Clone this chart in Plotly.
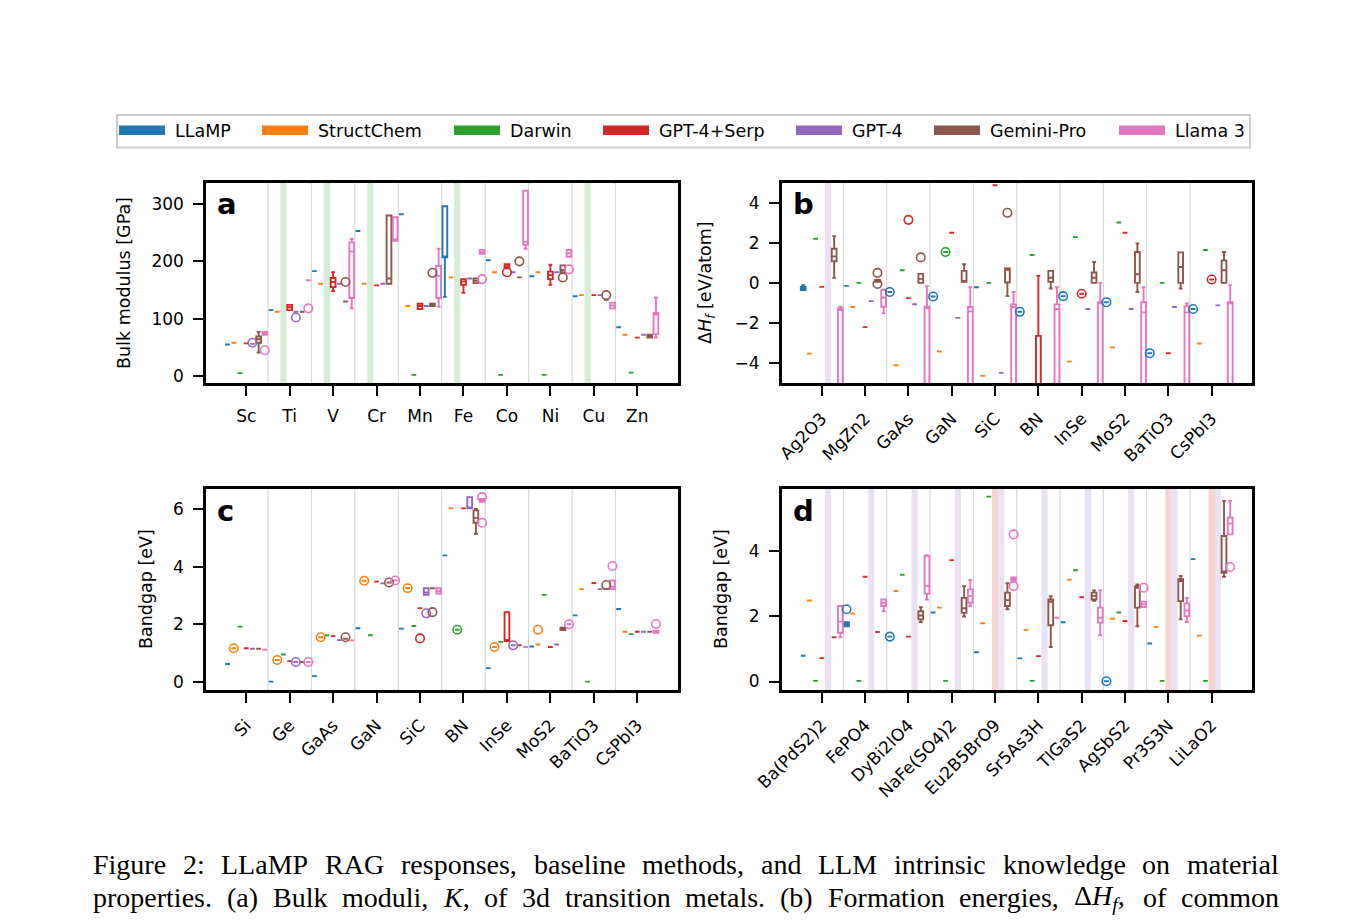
import plotly.graph_objects as go

W, H = 1369, 920
METHODS = ["LLaMP", "StructChem", "Darwin", "GPT-4+Serp", "GPT-4", "Gemini-Pro", "Llama 3"]
COLORS = ["#1f77b4", "#ff7f0e", "#2ca02c", "#d62728", "#9467bd", "#8c564b", "#e377c2"]

# ---------------- panel a: bulk modulus [GPa] ----------------
A_CATS = ["Sc", "Ti", "V", "Cr", "Mn", "Fe", "Co", "Ni", "Cu", "Zn"]
# entry: single value, [lowerfence, q1, median, q3, upperfence], or None
A_LLAMP = [55, 115, 183, 253, 282, [138, 207, 208, 296, 296], 202, 174, 139, 85]
A_STRUCT = [58, 112, 161, 161, 122, 172, 181, 181, 141, 72]
A_DARWIN = [5, None, None, None, 2, None, 2, 2, None, 6]
A_SERP = [57, [115, 115, 120, 124, 124], [148, 155, 164, 171, 181], 158, [117, 117, 122, 126, 126],
          [145, 159, 165, 169, 169], [188, 188, 191, 195, 195], [159, 169, 176, 182, 194], 141, 67]
A_GPT4 = [56, 112, 161, 161, 122, 170, 181, 181, 141, 72]
A_GEMINI = [[41, 58, 64, 69, 77], 112, 130, [161, 161, 170, 280, 280], [122, 122, 123, 126, 126],
            [162, 162, 166, 170, 170], 172, [181, 181, 185, 193, 193], 133, [67, 67, 69, 72, 72]]
A_LLAMA = [[72, 72, 74, 77, 77], 167, [118, 136, 217, 233, 239], [236, 236, 238, 277, 277],
           [121, 136, 175, 192, 222], [213, 213, 216, 220, 220], [222, 229, 234, 323, 323],
           [208, 208, 214, 220, 220], [118, 118, 123, 128, 128], [67, 73, 107, 110, 137]]
A_OUTLIERS = [(0, 4, 58), (0, 6, 45), (1, 4, 102), (1, 6, 118), (2, 5, 164), (4, 5, 180),
              (5, 6, 169), (6, 3, 181), (6, 5, 200), (7, 5, 172), (7, 6, 186), (8, 5, 141)]
A_MISSING = [(1, 2), (2, 2), (3, 2), (5, 2), (8, 2)]

# ---------------- panel b: formation energy [eV/atom] ----------------
B_CATS = ["Ag2O3", "MgZn2", "GaAs", "GaN", "SiC", "BN", "InSe", "MoS2", "BaTiO3", "CsPbI3"]
B_LLAMP = [[-0.36, -0.35, -0.28, -0.2, -0.11], -0.15, -0.45, -0.68, -0.22, -1.44, -0.66, -0.96, -3.5, -1.3]
B_STRUCT = [-3.52, -1.2, -4.1, -3.42, -4.63, None, -3.92, -3.22, None, -3.02]
B_DARWIN = [2.2, 0.0, 0.63, 1.54, 0.0, 1.39, 2.28, 3.01, 0.0, 1.64]
B_SERP = [-0.2, -2.2, -0.76, 2.5, 4.86, [-20, -12, -8, -2.64, 0.35], -0.54, 2.5, -3.5, 0.17]
B_GPT4 = [None, -0.91, -1.06, -1.74, -4.48, None, -1.3, -1.3, -1.2, -1.12]
B_GEMINI = [[0.25, 1.08, 1.32, 1.7, 2.33], [0.05, 0.05, 0.12, 0.15, 0.15], [0, 0, 0.2, 0.45, 0.45],
            [0.05, 0.05, 0.1, 0.6, 0.93], [-0.66, 0.02, 0.65, 0.72, 0.72], [-0.28, 0.05, 0.26, 0.6, 0.6],
            [0, 0, 0.26, 0.52, 1.04], [-0.45, 0, 0.43, 1.54, 1.97], [-0.28, 0, 0.79, 1.52, 1.52],
            [0, 0, 0.63, 1.12, 1.54]]
B_LLAMA = [[-20, -12, -1.35, -1.27, -1.19], [-1.52, -1.19, -0.73, -0.36, -0.33], [-20, -12, -1.25, -1.19, -0.16],
           [-20, -12, -1.42, -1.2, -0.22], [-20, -12, -1.2, -1.07, -0.45], [-20, -12, -1.3, -1.07, -0.22],
           [-20, -12, -1.0, -0.96, 0.0], [-20, -12, -1.47, -0.96, -0.22], [-20, -12, -1.47, -1.16, -1.02],
           [-20, -12, -1.0, -0.96, -0.11]]
B_OUTLIERS = [(2, 0, -0.45), (3, 0, -0.68), (5, 0, -1.44), (6, 0, -0.66), (7, 0, -0.96), (8, 0, -3.5),
              (9, 0, -1.3), (3, 2, 1.54), (2, 3, 3.14), (6, 3, -0.54), (9, 3, 0.17),
              (1, 5, 0.5), (1, 5, -0.05), (2, 5, 1.27), (4, 5, 3.49)]
B_MISSING = [(0, 4)]

# ---------------- panel c: bandgap [eV] ----------------
C_CATS = ["Si", "Ge", "GaAs", "GaN", "SiC", "BN", "InSe", "MoS2", "BaTiO3", "CsPbI3"]
C_LLAMP = [0.62, 0.01, 0.2, 1.86, 1.85, 4.39, 0.48, 1.23, 2.31, 2.53]
C_STRUCT = [1.17, 0.76, 1.55, 3.51, 3.25, 6.02, 1.21, 1.3, 3.22, 1.74]
C_DARWIN = [1.92, 0.95, 1.62, 1.62, 1.94, 1.81, 1.39, 3.02, 0.01, 1.66]
C_SERP = [1.17, 0.72, 1.59, 3.48, 2.56, 6.02, [1.42, 1.42, 1.42, 2.42, 2.42], 1.21, 3.43, 1.74]
C_GPT4 = [1.15, 0.69, 1.45, 3.42, [3.02, 3.02, 3.1, 3.25, 3.25], [6.02, 6.02, 6.05, 6.41, 6.41], 1.27, 1.3, 3.22, 1.74]
C_GEMINI = [1.15, 0.69, 1.5, 3.45, 3.25, [5.14, 5.52, 5.69, 5.95, 6.0], 1.27, [1.8, 1.8, 1.84, 1.88, 1.88], 3.22, 1.74]
C_LLAMA = [1.12, 0.69, 1.44, 3.52, [3.07, 3.07, 3.15, 3.25, 3.25], [6.25, 6.25, 6.3, 6.35, 6.35], 1.21, 2.0,
           [3.22, 3.22, 3.3, 3.52, 3.52], [1.7, 1.7, 1.74, 1.78, 1.78]]
C_OUTLIERS = [(0, 1, 1.17), (1, 1, 0.76), (2, 1, 1.55), (3, 1, 3.51), (4, 1, 3.25), (6, 1, 1.21), (7, 1, 1.81),
              (5, 2, 1.81), (4, 3, 1.51), (1, 4, 0.69), (4, 4, 2.38), (6, 4, 1.27),
              (2, 5, 1.55), (3, 5, 3.45), (4, 5, 2.42), (8, 5, 3.36),
              (1, 6, 0.69), (3, 6, 3.52), (5, 6, 6.41), (5, 6, 5.52), (7, 6, 2.0), (8, 6, 4.02), (9, 6, 2.01)]
C_MISSING = []

# ---------------- panel d: bandgap [eV] ----------------
D_CATS = ["Ba(PdS2)2", "FePO4", "DyBi2IO4", "NaFe(SO4)2", "Eu2B5BrO9", "Sr5As3H", "TlGaS2", "AgSbS2", "Pr3S3N", "LiLaO2"]
D_LLAMP = [0.79, [1.7, 1.7, 1.76, 1.82, 1.82], 1.38, 2.12, 0.9, 0.71, 1.82, 0.01, 1.17, 3.76]
D_STRUCT = [2.49, 2.09, 2.78, 2.27, 1.79, 1.58, 3.13, 1.93, 1.67, 1.41]
D_DARWIN = [0.02, 0.02, 3.28, 0.02, 5.68, 0.02, 3.42, 2.12, 0.02, 0.02]
D_SERP = [0.72, 3.22, 1.38, 3.73, None, 0.78, 2.59, 1.86, None, None]
D_GPT4 = [None, None, None, None, None, None, None, None, None, None]
D_GEMINI = [1.36, 1.52, [1.83, 1.91, 2.03, 2.16, 2.28], [2.0, 2.11, 2.25, 2.57, 2.93], [2.22, 2.32, 2.5, 2.73, 3.02],
            [1.06, 1.73, 2.45, 2.52, 2.62], [2.48, 2.52, 2.63, 2.73, 2.8], [1.7, 2.27, 2.88, 2.92, 2.98],
            [1.91, 2.47, 3.09, 3.14, 3.24], [3.22, 3.34, 3.38, 4.47, 5.55]]
D_LLAMA = [[1.36, 1.5, 1.84, 2.32, 2.32], [2.16, 2.32, 2.42, 2.52, 2.52], [2.52, 2.7, 2.93, 3.86, 3.88],
           [2.32, 2.42, 2.63, 2.83, 3.12], [3.1, 3.1, 3.15, 3.2, 3.2], 1.96, [1.42, 1.81, 1.96, 2.27, 2.8],
           [2.29, 2.29, 2.37, 2.45, 2.45], [1.83, 2.01, 2.18, 2.4, 2.57], [4.52, 4.52, 4.85, 5.04, 5.55]]
D_OUTLIERS = [(1, 0, 2.22), (2, 0, 1.38), (7, 0, 0.01), (4, 6, 4.52), (4, 6, 2.93), (7, 6, 2.88), (9, 6, 3.52)]
D_MISSING = [(c, 4) for c in range(10)] + [(4, 3), (8, 3), (9, 3)]

BAND_COLORS = {2: "rgba(44,160,44,0.2)", 3: "rgba(214,39,40,0.2)", 4: "rgba(148,103,189,0.2)"}

# caption text (words: (html, plain-width proxy))
CAPTION = [
    [("Figure", "Figure"), ("2:", "2:"), ("LLaMP", "LLaMP"), ("RAG", "RAG"), ("responses,", "responses,"),
     ("baseline", "baseline"), ("methods,", "methods,"), ("and", "and"), ("LLM", "LLM"),
     ("intrinsic", "intrinsic"), ("knowledge", "knowledge"), ("on", "on"), ("material", "material")],
    [("properties.", "properties."), ("(a)", "(a)"), ("Bulk", "Bulk"), ("moduli,", "moduli,"),
     ("<i>K</i>,", "K,"), ("of", "of"), ("3d", "3d"), ("transition", "transition"), ("metals.", "metals."),
     ("(b)", "(b)"), ("Formation", "Formation"), ("energies,", "energies,"),
     ("\u0394<i>H</i><sub><i>f</i></sub>,", "\u0394Hf,"), ("of", "of"), ("common", "common")],
    [("compounds.", "compounds."), ("(c)", "(c)"), ("Electronic", "Electronic"), ("bandgaps,", "bandgaps,"),
     ("<i>E</i><sub><i>g</i></sub>,", "Eg,"), ("of", "of"), ("common", "common"),
     ("semiconducting", "semiconducting"), ("and", "and"), ("insulating", "insulating"),
     ("materials.", "materials."), ("(d)", "(d)"), ("Electronic", "Electronic")],
]


def px(x):
    return x / W


def py(y):
    return 1 - y / H


fig = go.Figure()
shapes = []
annotations = []

panels = [
    ("x", "y", A_CATS, [A_LLAMP, A_STRUCT, A_DARWIN, A_SERP, A_GPT4, A_GEMINI, A_LLAMA], A_OUTLIERS, A_MISSING),
    ("x2", "y2", B_CATS, [B_LLAMP, B_STRUCT, B_DARWIN, B_SERP, B_GPT4, B_GEMINI, B_LLAMA], B_OUTLIERS, B_MISSING),
    ("x3", "y3", C_CATS, [C_LLAMP, C_STRUCT, C_DARWIN, C_SERP, C_GPT4, C_GEMINI, C_LLAMA], C_OUTLIERS, C_MISSING),
    ("x4", "y4", D_CATS, [D_LLAMP, D_STRUCT, D_DARWIN, D_SERP, D_GPT4, D_GEMINI, D_LLAMA], D_OUTLIERS, D_MISSING),
]

SLOT = 1 / 7
for xa, ya, cats, series, outl, missing in panels:
    for i in range(len(cats) - 1):
        shapes.append(dict(type="line", xref=xa, yref=ya + " domain", x0=i + 0.5, x1=i + 0.5, y0=0, y1=1,
                           line=dict(color="#d2d2d2", width=1), layer="below"))
    for c, k in missing:
        xc = c + (k - 3) * SLOT
        shapes.append(dict(type="rect", xref=xa, yref=ya + " domain", x0=xc - SLOT / 2, x1=xc + SLOT / 2,
                           y0=0, y1=1, fillcolor=BAND_COLORS[k], line=dict(width=0), layer="below"))
    for k, vals in enumerate(series):
        xs, lo, q1, md, q3, hi = [], [], [], [], [], []
        for c, v in enumerate(vals):
            if v is None:
                continue
            if not isinstance(v, list):
                v = [v] * 5
            xs.append(c + (k - 3) * SLOT)
            lo.append(v[0]); q1.append(v[1]); md.append(v[2]); q3.append(v[3]); hi.append(v[4])
        if xs:
            fig.add_trace(go.Box(x=xs, lowerfence=lo, q1=q1, median=md, q3=q3, upperfence=hi,
                                 width=0.11, whiskerwidth=0.8, boxpoints=False,
                                 line=dict(color=COLORS[k], width=1.9), fillcolor="rgba(255,255,255,0)",
                                 xaxis=xa, yaxis=ya, showlegend=False, hoverinfo="skip", name=METHODS[k]))
    for k in range(7):
        ox = [c + (k - 3) * SLOT for c, m, v in outl if m == k]
        oy = [v for c, m, v in outl if m == k]
        if ox:
            fig.add_trace(go.Scatter(x=ox, y=oy, mode="markers", xaxis=xa, yaxis=ya, showlegend=False,
                                     hoverinfo="skip",
                                     marker=dict(symbol="circle-open", size=8.5, color=COLORS[k],
                                                 line=dict(width=1.6, color=COLORS[k]))))

# ---------------- axes ----------------
XL = [206, 677.5]
XR = [781.7, 1251.7]
YT = [182.5, 383.3]
YB = [488.5, 690]
tickfont = dict(family="DejaVu Sans", size=17, color="black")
common = dict(showline=True, linecolor="black", linewidth=2.5, mirror=True, ticks="outside",
              ticklen=10, tickwidth=2.2, tickcolor="black", showgrid=False, zeroline=False,
              tickfont=tickfont, automargin=False)


def xaxis(dom, cats, anchor, angle):
    return dict(domain=[px(dom[0]), px(dom[1])], range=[-0.925, 9.925], tickvals=list(range(10)),
                ticktext=cats, tickangle=angle, anchor=anchor, ticklabelstandoff=6, **common)


def yaxis(dom, rng, tv, tt, anchor):
    return dict(domain=[py(dom[1]), py(dom[0])], range=rng, tickvals=tv, ticktext=tt, anchor=anchor,
                ticklabelstandoff=6, **common)


fig.update_layout(
    width=W, height=H, margin=dict(l=0, r=0, t=0, b=0, autoexpand=False),
    paper_bgcolor="white", plot_bgcolor="white", boxmode="overlay", showlegend=False,
    xaxis=xaxis(XL, A_CATS, "y", 0),
    yaxis=yaxis(YT, [-12.7, 337.5], [0, 100, 200, 300], ["0", "100", "200", "300"], "x"),
    xaxis2=xaxis(XR, B_CATS, "y2", -45),
    yaxis2=yaxis(YT, [-5, 5], [-4, -2, 0, 2, 4], ["\u22124", "\u22122", "0", "2", "4"], "x2"),
    xaxis3=xaxis(XL, C_CATS, "y3", -45),
    yaxis3=yaxis(YB, [-0.28, 6.71], [0, 2, 4, 6], ["0", "2", "4", "6"], "x3"),
    xaxis4=xaxis(XR, D_CATS, "y4", -45),
    yaxis4=yaxis(YB, [-0.26, 5.93], [0, 2, 4], ["0", "2", "4"], "x4"),
)

# y titles
for text, x, y in [("Bulk modulus [GPa]", 124, 283), ("\u0394<i>H</i><sub><i>f</i></sub> [eV/atom]", 706, 283),
                   ("Bandgap [eV]", 146, 589), ("Bandgap [eV]", 721, 589)]:
    annotations.append(dict(text=text, x=px(x), y=py(y), xref="paper", yref="paper", showarrow=False,
                            textangle=-90, xanchor="center", yanchor="middle",
                            font=dict(family="DejaVu Sans", size=17.5, color="black")))

# panel letters
for letter, x, y in [("a", 215, 204), ("b", 791, 204), ("c", 215, 511), ("d", 791, 511)]:
    annotations.append(dict(text="<b>%s</b>" % letter, x=px(x), y=py(y), xref="paper", yref="paper",
                            showarrow=False, xanchor="left", yanchor="middle",
                            font=dict(family="DejaVu Sans", size=29, color="black")))

# legend (drawn manually to mimic matplotlib's expanded legend)
LEG_X = [119, 262, 454, 603, 796, 934, 1119]
shapes.append(dict(type="rect", xref="paper", yref="paper", x0=px(117), x1=px(1250), y0=py(147.5), y1=py(115),
                   line=dict(color="#cccccc", width=2), fillcolor="white", layer="above"))
for k, lx in enumerate(LEG_X):
    shapes.append(dict(type="rect", xref="paper", yref="paper", x0=px(lx), x1=px(lx + 46),
                       y0=py(135), y1=py(125.5), fillcolor=COLORS[k], line=dict(width=0), layer="above"))
    annotations.append(dict(text=METHODS[k], x=px(lx + 54), y=py(130.5), xref="paper", yref="paper",
                            showarrow=False, xanchor="left", yanchor="middle",
                            font=dict(family="DejaVu Sans", size=17.5, color="black")))

# caption, justified using Times advance widths (per 1000 em)
TW = {' ': 250, '(': 333, ')': 333, ',': 250, '.': 250, ':': 278, '\u0394': 612,
      'A': 722, 'B': 667, 'E': 611, 'F': 556, 'G': 722, 'H': 722, 'K': 667, 'L': 611, 'M': 889, 'P': 556, 'R': 667,
      'a': 444, 'b': 500, 'c': 444, 'd': 500, 'e': 444, 'f': 333, 'g': 500, 'h': 500, 'i': 278, 'k': 500, 'l': 278,
      'm': 778, 'n': 500, 'o': 500, 'p': 500, 'r': 333, 's': 389, 't': 278, 'u': 500, 'w': 722}
CAP_SIZE = 28
CAP_LEFT, CAP_RIGHT = 91, 1277
for li, words in enumerate(CAPTION):
    widths = [sum(TW.get(ch, 500) for ch in plain) * CAP_SIZE / 1000 for _, plain in words]
    gap = (CAP_RIGHT - CAP_LEFT - sum(widths)) / (len(words) - 1)
    xcur = CAP_LEFT
    yc = 864 + 33 * li
    for (html, _), wd in zip(words, widths):
        annotations.append(dict(text=html, x=px(xcur), y=py(yc), xref="paper", yref="paper", showarrow=False,
                                xanchor="left", yanchor="middle",
                                font=dict(family="Liberation Serif", size=CAP_SIZE, color="black")))
        xcur += wd + gap

fig.update_layout(shapes=shapes, annotations=annotations)
fig.write_html("out.html")
